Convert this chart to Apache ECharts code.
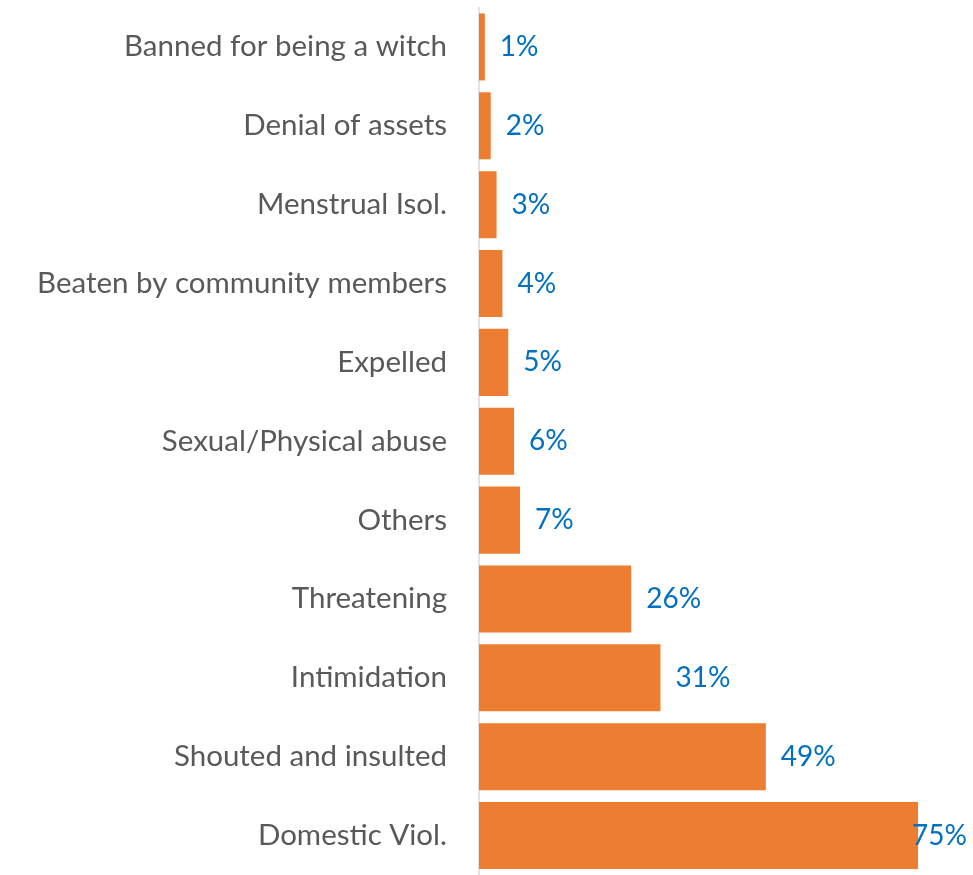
<!DOCTYPE html>
<html>
<head>
<meta charset="utf-8">
<script src="https://cdn.jsdelivr.net/npm/echarts@6/dist/echarts.min.js"></script>
<style>
  html, body { margin: 0; padding: 0; background: #ffffff; }
  #chart { width: 973px; height: 875px; }
</style>
</head>
<body>
<div id="chart"></div>
<script>
// Categories listed bottom-to-top (ECharts category y-axis starts at the bottom)
const categories = [
  'Domestic Viol.',
  'Shouted and insulted',
  'Intimidation',
  'Threatening',
  'Others',
  'Sexual/Physical abuse',
  'Expelled',
  'Beaten by community members',
  'Menstrual Isol.',
  'Denial of assets',
  'Banned for being a witch'
];
const percentages = [75, 49, 31, 26, 7, 6, 5, 4, 3, 2, 1];

const FONT = 'Lato, "Open Sans", sans-serif';

const chart = echarts.init(document.getElementById('chart'), null, { renderer: 'canvas' });

const seriesData = percentages.map((v, i) => {
  const item = { value: v };
  // The longest bar's label would run past the edge, so pull it back over the bar end
  if (i === 0) {
    item.label = { offset: [-21, 0] };
  }
  return item;
});

chart.setOption({
  animation: false,
  backgroundColor: '#ffffff',
  grid: { left: 479, right: 25.7, top: 7.5, bottom: -4.5, containLabel: false },
  xAxis: {
    type: 'value',
    min: 0,
    max: 80,
    show: false
  },
  yAxis: {
    type: 'category',
    data: categories,
    axisLine: { show: true, lineStyle: { color: '#d9d9d9', width: 1.5 } },
    axisTick: { show: false },
    axisLabel: {
      color: '#595959',
      fontFamily: FONT,
      fontSize: 29.5,
      margin: 32
    }
  },
  series: [{
    type: 'bar',
    data: seriesData,
    barCategoryGap: '15%',
    itemStyle: { color: '#ED7D31' },
    label: {
      show: true,
      position: 'right',
      distance: 15,
      color: '#0070C0',
      fontFamily: FONT,
      fontSize: 28,
      formatter: p => p.value + '%'
    }
  }]
});
</script>
</body>
</html>
